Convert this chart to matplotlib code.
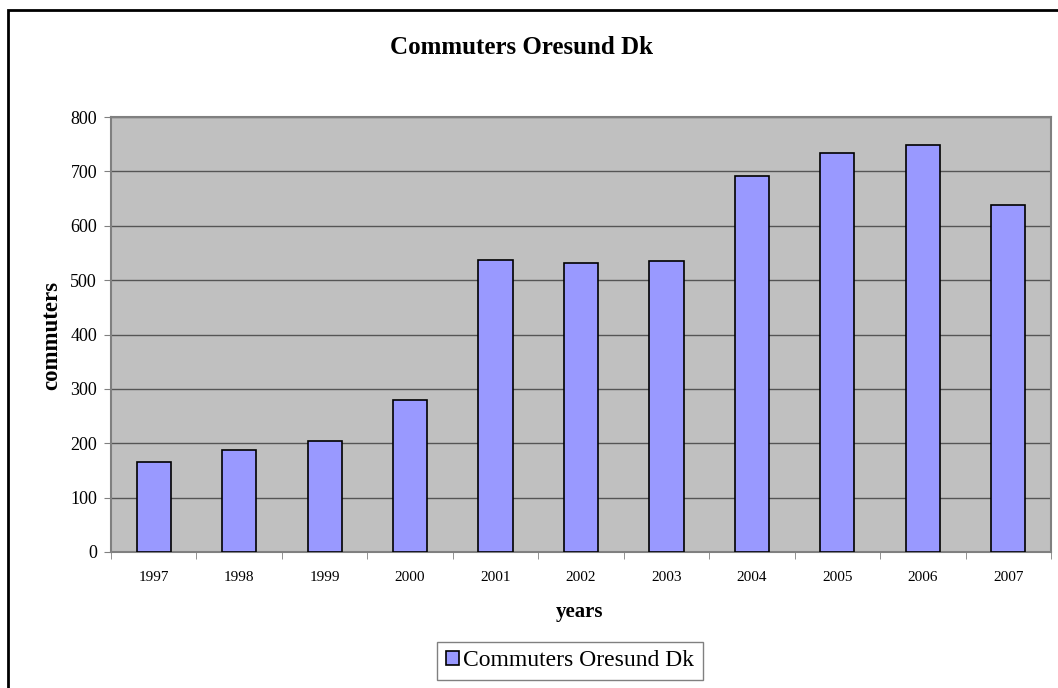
import matplotlib.pyplot as plt
from matplotlib.patches import Rectangle

years = ["1997", "1998", "1999", "2000", "2001", "2002", "2003", "2004", "2005", "2006", "2007"]
commuters = [166, 187, 204, 280, 537, 532, 535, 691, 734, 748, 638]

plt.rcParams['font.family'] = ['Liberation Serif', 'DejaVu Serif']

fig = plt.figure(figsize=(10.58, 6.88), dpi=100)
W, H = 1058, 688
ax = fig.add_axes([111 / W, 1 - 552 / H, (1051 - 111) / W, (552 - 117) / H])

# outer chart border (right/bottom run off the picture)
fig.patches.append(Rectangle((8 / W, -0.1), 1.2, 1 - 10 / H + 0.1, transform=fig.transFigure,
                             fill=False, edgecolor='black', linewidth=2))

ax.set_facecolor('#C0C0C0')
x = range(len(years))
bars = ax.bar(x, commuters, width=0.4, color='#9999FF', edgecolor='black', linewidth=1.2,
              label='Commuters Oresund Dk', zorder=3)

ax.set_xlim(-0.5, len(years) - 0.5)
ax.set_ylim(0, 800)
ax.set_yticks(range(0, 801, 100))
ax.yaxis.grid(True, color='#555555', linewidth=1, zorder=1)
ax.set_xticks(list(x))
ax.set_xticklabels(years)
ax.set_xticks([i + 0.5 for i in range(-1, len(years))], minor=True)
ax.tick_params(axis='x', which='major', length=0, pad=14, labelsize=11)
ax.tick_params(axis='x', which='minor', length=5, color='#808080', direction='out')
ax.tick_params(axis='y', length=5, color='#808080', labelsize=13, pad=5)

for s in ax.spines.values():
    s.set_color('#808080')
    s.set_linewidth(1.5)

fig.text(521 / W, 1 - 48 / H, 'Commuters Oresund Dk', ha='center', va='center',
         fontsize=18, fontweight='bold')
fig.text(580 / W, 1 - 612 / H, 'years', ha='center', va='center', fontsize=15, fontweight='bold')
fig.text(52 / W, 1 - 335 / H, 'commuters', ha='center', va='center', rotation=90,
         fontsize=16.5, fontweight='bold')

leg = fig.legend(handles=[bars], labels=['Commuters Oresund Dk'], loc='center',
                 bbox_to_anchor=(570 / W, 1 - 661 / H), fontsize=17, frameon=True,
                 fancybox=False, edgecolor='#606060', handlelength=0.55, handleheight=0.55,
                 handletextpad=0.2, borderpad=0.35)
leg.get_frame().set_linewidth(1)

fig.savefig('out.png', dpi=100)
